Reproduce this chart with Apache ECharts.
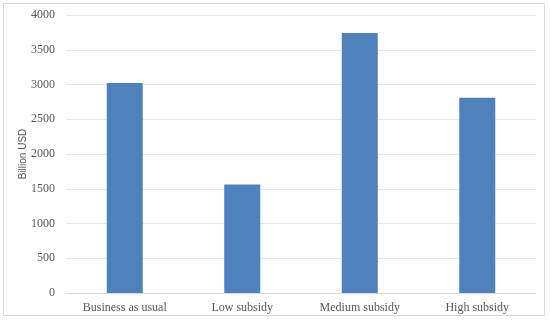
<!DOCTYPE html>
<html><head><meta charset="utf-8">
<script src="https://cdn.jsdelivr.net/npm/echarts@6/dist/echarts.min.js"></script>
<style>html,body{margin:0;padding:0;background:#fff}#c{width:550px;height:323px}</style>
</head><body><div id="c"></div>
<script>
const categories = ['Business as usual', 'Low subsidy', 'Medium subsidy', 'High subsidy'];
const values = [3020, 1560, 3740, 2810];
const yTicks = [0, 500, 1000, 1500, 2000, 2500, 3000, 3500, 4000];
const yName = 'Billion USD';

const chart = echarts.init(document.getElementById('c'), null, {renderer: 'canvas'});
chart.setOption({
  animation: false,
  backgroundColor: '#fff',
  graphic: [{type: 'rect', shape: {x: 3.5, y: 3.5, width: 541, height: 312}, style: {fill: 'none', stroke: '#d9d9d9', lineWidth: 1}}],
  grid: {left: 66, right: 14, top: 15, bottom: 30},
  xAxis: {
    type: 'category', data: categories,
    axisLine: {lineStyle: {color: '#d9d9d9'}},
    axisTick: {show: false},
    axisLabel: {interval: 0, color: '#595959', fontFamily: 'Liberation Serif', fontSize: 12, margin: 9}
  },
  yAxis: {
    type: 'value', min: yTicks[0], max: yTicks[yTicks.length - 1], interval: 500,
    name: yName, nameLocation: 'middle', nameGap: 38, nameRotate: 90, nameMoveOverlap: false,
    nameTextStyle: {color: '#595959', fontFamily: 'Liberation Sans', fontSize: 10},
    axisLine: {show: false}, axisTick: {show: false},
    splitLine: {lineStyle: {color: '#e6e6e6'}},
    axisLabel: {color: '#595959', fontFamily: 'Liberation Serif', fontSize: 12, margin: 11, formatter: v => String(v)}
  },
  series: [{type: 'bar', data: values, barWidth: 36, itemStyle: {color: '#4f81bd'}}]
});
</script></body></html>
